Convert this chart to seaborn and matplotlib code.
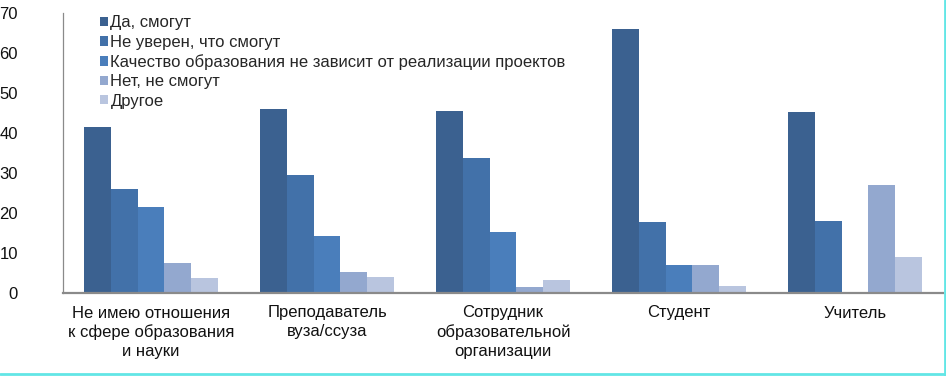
import numpy as np
import pandas as pd
import matplotlib
matplotlib.use("Agg")
import matplotlib.pyplot as plt
from matplotlib import font_manager
from matplotlib.lines import Line2D
import seaborn as sns

categories = ["Не имею отношения\nк сфере образования\nи науки",
              "Преподаватель\nвуза/ссуза",
              "Сотрудник\nобразовательной\nорганизации",
              "Студент",
              "Учитель"]
series_names = ["Да, смогут",
                "Не уверен, что смогут",
                "Качество образования не зависит от реализации проектов",
                "Нет, не смогут",
                "Другое"]
da = [41.5, 46.0, 45.5, 66.0, 45.3]
ne_uveren = [26.0, 29.6, 33.8, 17.8, 18.1]
kachestvo = [21.5, 14.3, 15.2, 7.0, 0.0]
net = [7.5, 5.3, 1.5, 7.0, 27.0]
drugoe = [3.7, 4.0, 3.3, 1.7, 9.0]
yticks = [0, 10, 20, 30, 40, 50, 60, 70]

colors = ["#3B6190", "#4271A9", "#4A7EBB", "#93A8CF", "#B9C5DF"]

sns.set_theme(style="white")
names = {f.name for f in font_manager.fontManager.ttflist}
base_font = "Liberation Sans" if "Liberation Sans" in names else "DejaVu Sans"
plt.rcParams["font.family"] = [base_font, "DejaVu Sans"]

rows = []
for s, vals in zip(series_names, [da, ne_uveren, kachestvo, net, drugoe]):
    for c, v in zip(categories, vals):
        rows.append({"cat": c, "series": s, "value": v})
df = pd.DataFrame(rows)

fig = plt.figure(figsize=(9.46, 3.76), dpi=100)
ax = fig.add_axes([63/946, 1-293/376, 880/946, (293-13)/376])

sns.barplot(data=df, x="cat", y="value", hue="series", order=categories,
            hue_order=series_names, palette=colors, width=0.76,
            saturation=1, ax=ax, edgecolor="none", linewidth=0, legend=True)

ax.set_ylim(0, 70)
ax.set_xlim(-0.5, len(categories) - 0.5)
ax.set_yticks(yticks)
ax.set_yticklabels([str(t) for t in yticks], fontsize=12, color="#111111")
ax.set_xlabel("")
ax.set_ylabel("")

ax.set_xticks(range(len(categories)))
ax.set_xticklabels(categories, fontsize=12, linespacing=1.3, color="#111111")
ax.tick_params(axis="x", which="major", length=0, pad=9)
ax.set_xticks(np.arange(-0.5, len(categories), 1.0), minor=True)
ax.tick_params(axis="x", which="minor", length=4, width=1, color="#808080", direction="out")
ax.tick_params(axis="y", which="major", length=3, width=0.8, color="#808080",
               direction="out", pad=29.5)

for side in ["top", "right"]:
    ax.spines[side].set_visible(False)
ax.spines["left"].set_color("#8a8a8a")
ax.spines["left"].set_linewidth(0.9)
ax.spines["bottom"].set_color("#8a8a8a")
ax.spines["bottom"].set_linewidth(1.6)

leg = ax.legend(loc="upper left", bbox_to_anchor=(0.034, 1.015), frameon=False,
                fontsize=12, handlelength=0.5, handleheight=0.5,
                handletextpad=0.15, labelspacing=0.26, borderaxespad=0)

fig.add_artist(Line2D([0.9985, 0.9985], [0.0, 1.0], transform=fig.transFigure,
                      color="#62E6E6", linewidth=2))
fig.add_artist(Line2D([0.0, 1.0], [0.006, 0.006], transform=fig.transFigure,
                      color="#62E6E6", linewidth=2))

fig.savefig("out.png", dpi=100)
